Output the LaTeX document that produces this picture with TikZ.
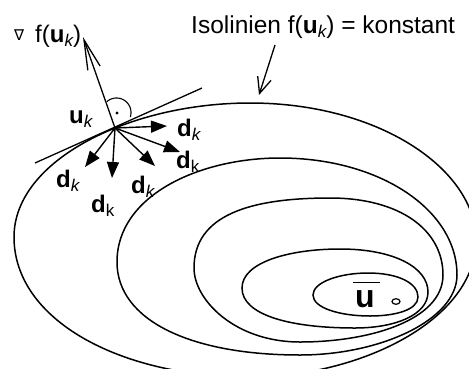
\documentclass[tikz,border=0pt]{standalone}
\usepackage{fontspec}
\setmainfont{Liberation Sans}
\newfontfamily\dejavu{DejaVu Sans}
\usetikzlibrary{arrows.meta}
\newcommand\ksub{\raisebox{-4pt}{\fontsize{17}{17}\selectfont\itshape k}}
\newcommand\ksubup{\raisebox{-4pt}{\fontsize{17}{17}\selectfont k}}
\begin{document}
\begin{tikzpicture}[x=1pt,y=-1pt,
  iso/.style={line width=1.5pt},
  thinline/.style={line width=1.3pt},
  dvec/.style={line width=1.4pt,-{Triangle[length=16pt,width=12pt]}},
  gvec/.style={line width=1.3pt,-{Straight Barb[length=30pt,width=13pt]}},
  pvec/.style={line width=1.3pt,-{Straight Barb[length=16pt,width=14pt]}},
  lbl/.style={inner sep=0pt, anchor=base west, font=\fontsize{24}{28}\selectfont}
]
\useasboundingbox (0,0) rectangle (469,368);
\begin{scope}
\clip (0,0) rectangle (469,368);
% isolines, outermost first
\draw[iso] (14,237) .. controls (14,160) and (130,103) .. (250,103)
  .. controls (380,103) and (476,170) .. (476,240)
  .. controls (476,320) and (360,377) .. (250,377)
  .. controls (120,377) and (14,320) .. (14,237) -- cycle;
\draw[iso] (117,262) .. controls (117,195) and (200,158) .. (280,158)
  .. controls (380,158) and (457,210) .. (457,275)
  .. controls (457,320) and (380,355) .. (300,355)
  .. controls (190,355) and (117,320) .. (117,262) -- cycle;
\draw[iso] (194,268) .. controls (194,215) and (250,198) .. (330,198)
  .. controls (400,198) and (443,230) .. (443,275)
  .. controls (443,320) and (370,342) .. (300,342)
  .. controls (235,342) and (194,300) .. (194,268) -- cycle;
\draw[iso] (242,288) .. controls (242,262) and (290,249) .. (340,249)
  .. controls (395,249) and (428,268) .. (428,292)
  .. controls (428,315) and (395,328) .. (355,328)
  .. controls (290,328) and (242,315) .. (242,288) -- cycle;
\draw[iso] (313,295) .. controls (313,282) and (340,273) .. (368,273)
  .. controls (398,273) and (418,283) .. (418,297)
  .. controls (418,310) and (395,316) .. (370,316)
  .. controls (340,316) and (313,308) .. (313,295) -- cycle;
\end{scope}
% minimum marker
\draw[line width=1.2pt] (396,301.5) ellipse [x radius=4, y radius=2.8];
\node[lbl, font=\fontsize{32}{36}\selectfont\bfseries] (ubar) at (355,307) {u};
\draw[line width=1.8pt] ([xshift=-2pt,yshift=7.4pt]ubar.north west) -- ([xshift=5.5pt,yshift=7.4pt]ubar.north east);
% point u_k, tangent and gradient
\coordinate (U) at (115,128);
\coordinate (T1) at (35,163);
\coordinate (T2) at (202,88);
\coordinate (G) at (83,37);
\draw[thinline] (T1) -- (T2);
\draw[gvec] (U) -- (G);
\draw[line width=1.1pt] plot[domain=-132:18, samples=40] ({116.5+14.5*cos(\x)}, {112.5+14.5*sin(\x)});
\fill (117,113) circle [radius=1.6];
% directions d_k
\coordinate (D1) at (167,126);
\coordinate (D2) at (180,152);
\coordinate (D3) at (85,167);
\coordinate (D4) at (112,178);
\coordinate (D5) at (155,166);
\foreach \t in {D1,D2,D3,D4,D5} \draw[dvec] (U) -- (\t);
% labels
\node[lbl, font=\fontsize{15}{15}\selectfont\dejavu] (nab) at (14,40) {∇};
\node[lbl] (grad) at (35,42) {f(\textbf{u}\ksub)};
\node[lbl] (uk) at (69,123) {\textbf{u}\ksub};
\node[lbl] (d1) at (177,136) {\textbf{d}\ksub};
\node[lbl] (d2) at (176,168) {\textbf{d}\ksubup};
\node[lbl] (d3) at (56,187) {\textbf{d}\ksub};
\node[lbl] (d4) at (91,212) {\textbf{d}\ksubup};
\node[lbl] (d5) at (131,193) {\textbf{d}\ksub};
\node[lbl, font=\fontsize{24.5}{28}\selectfont] (title) at (191,33) {Isolinien f(\textbf{u}\ksub) = konstant};
\coordinate (P1) at (275,45);
\coordinate (P2) at (259,95);
\draw[pvec] (P1) -- (P2);
\end{tikzpicture}
\end{document}
